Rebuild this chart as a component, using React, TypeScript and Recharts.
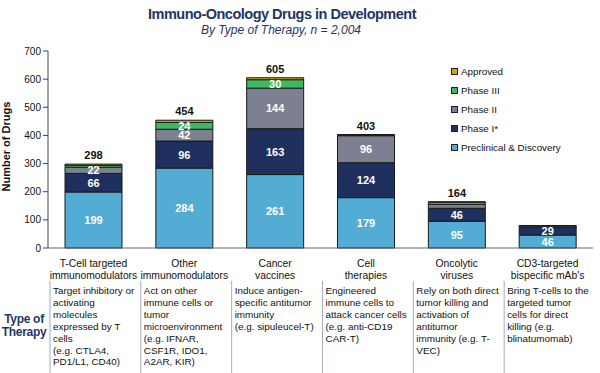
import React from 'react';
import { BarChart, Bar, XAxis, YAxis, LabelList } from 'recharts';

const categories = ['T-Cell targeted', 'Other', 'Cancer vaccines', 'Cell therapies', 'Oncolytic viruses', 'CD3-targeted'];
const categoryLines = [
  ['T-Cell targeted', 'immunomodulators'],
  ['Other', 'immunomodulators'],
  ['Cancer', 'vaccines'],
  ['Cell', 'therapies'],
  ['Oncolytic', 'viruses'],
  ['CD3-targeted', "bispecific mAb's"],
];
const descriptions = [
  ['Target inhibitory or', 'activating', 'molecules', 'expressed by T', 'cells', '(e.g. CTLA4,', 'PD1/L1, CD40)'],
  ['Act on other', 'immune cells or', 'tumor', 'microenvironment', '(e.g. IFNAR,', 'CSF1R, IDO1,', 'A2AR, KIR)'],
  ['Induce antigen-', 'specific antitumor', 'immunity', '(e.g. sipuleucel-T)'],
  ['Engineered', 'immune cells to', 'attack cancer cells', '(e.g. anti-CD19', 'CAR-T)'],
  ['Rely on both direct', 'tumor killing and', 'activation of', 'antitumor', 'immunity (e.g. T-', 'VEC)'],
  ['Bring T-cells to the', 'targeted tumor', 'cells for direct', 'killing (e.g.', 'blinatumomab)'],
];

const preclinical = [199, 284, 261, 179, 95, 46];
const phase1 = [66, 96, 163, 124, 46, 29];
const phase2 = [22, 42, 144, 96, 14, 4];
const phase3 = [7, 24, 30, 3, 8, 1];
const approved = [4, 8, 7, 1, 1, 0];
const totals = [298, 454, 605, 403, 164, 80];
const yTicks = [0, 100, 200, 300, 400, 500, 600, 700];

const series = [
  { key: 'preclinical', name: 'Preclinical & Discovery', color: '#52acd4' },
  { key: 'phase1', name: 'Phase I*', color: '#1f2f5e' },
  { key: 'phase2', name: 'Phase II', color: '#7c8090' },
  { key: 'phase3', name: 'Phase III', color: '#3fb862' },
  { key: 'approved', name: 'Approved', color: '#d2a600' },
];

const data = categories.map((name, i) => ({
  name,
  preclinical: preclinical[i],
  phase1: phase1[i],
  phase2: phase2[i],
  phase3: phase3[i],
  approved: approved[i],
  total: totals[i],
}));

const FONT = '"Liberation Sans", Arial, sans-serif';
const NAVY = '#1f3466';
const BAND = 545 / 6;

const SegmentLabel = (props: any) => {
  const { x, y, width, height, value } = props;
  if (value < 20) return null;
  return (
    <text x={x + width / 2} y={y + height / 2} dy={4} textAnchor="middle" fill="#fff"
      fontSize={11} fontWeight="bold" fontFamily={FONT}>
      {value}
    </text>
  );
};

const CategoryTick = (props: any) => {
  const { x, y, payload } = props;
  const i = payload.index;
  const left = x - BAND / 2;
  return (
    <g fontFamily={FONT} fill="#111">
      {categoryLines[i].map((t, k) => (
        <text key={k} x={x} y={y + 11 + k * 11.5} textAnchor="middle" fill="#111" fontSize={10.3}>{t}</text>
      ))}
      <line x1={left + 2} x2={left + 2} y1={y + 25} y2={y + 117} stroke="#a8acb8" strokeWidth={1} />
      {descriptions[i].map((t, k) => (
        <text key={k} x={left + 5} y={y + 38 + k * 11.9} fill="#111" fontSize={9.9}>{t}</text>
      ))}
    </g>
  );
};

const legendItems = [...series].reverse();

export default function App() {
  return (
    <div style={{ position: 'absolute', left: 0, top: 0, width: 600, height: 373, background: '#fff', fontFamily: FONT }}>
      <div style={{ position: 'absolute', left: 0, width: 564, top: 6, textAlign: 'center', color: NAVY, fontSize: 14.5, fontWeight: 'bold', letterSpacing: -0.5 }}>
        Immuno-Oncology Drugs in Development
      </div>
      <div style={{ position: 'absolute', left: 0, width: 562, top: 23, textAlign: 'center', color: NAVY, fontSize: 12, fontStyle: 'italic' }}>
        By Type of Therapy, n = 2,004
      </div>
      <div style={{ position: 'absolute', left: 0, width: 48, top: 313, textAlign: 'center', color: NAVY, fontSize: 12, fontWeight: 'bold', lineHeight: '13px', letterSpacing: -0.3 }}>
        Type of<br />Therapy
      </div>
      <div style={{ position: 'absolute', left: 451, top: 62 }}>
        {legendItems.map((s) => (
          <div key={s.key} style={{ display: 'flex', alignItems: 'center', height: 19, fontSize: 9.8, color: '#111' }}>
            <span style={{ width: 5, height: 5, background: s.color, border: '1px solid #222', marginRight: 3 }} />
            {s.name}
          </div>
        ))}
      </div>
      <BarChart width={600} height={373} data={data} barSize={57}
        margin={{ top: 51, right: 7, bottom: 0, left: 0 }}>
        <XAxis dataKey="name" height={125} tickLine={false} interval={0}
          axisLine={{ stroke: '#666' }} tick={<CategoryTick />} />
        <YAxis width={48} domain={[0, 700]} ticks={yTicks} tickSize={5}
          axisLine={{ stroke: '#444' }} tickLine={{ stroke: '#444' }}
          tick={{ fontSize: 10, fill: '#111', fontFamily: FONT }}
          label={{ value: 'Number of Drugs', angle: -90, position: 'insideLeft', offset: 6, dy: 42,
            style: { fontSize: 11, fontWeight: 'bold', fill: '#111', fontFamily: FONT } }} />
        {series.map((s) => (
          <Bar key={s.key} dataKey={s.key} stackId="a" fill={s.color} stroke="#1a1a1a" strokeWidth={1}
            isAnimationActive={false}>
            {s.key !== 'approved' && <LabelList dataKey={s.key} content={<SegmentLabel />} />}
            {s.key === 'approved' && (
              <LabelList dataKey="total" position="top" offset={5}
                style={{ fontSize: 11, fontWeight: 'bold', fill: '#111', fontFamily: FONT }} />
            )}
          </Bar>
        ))}
      </BarChart>
    </div>
  );
}
